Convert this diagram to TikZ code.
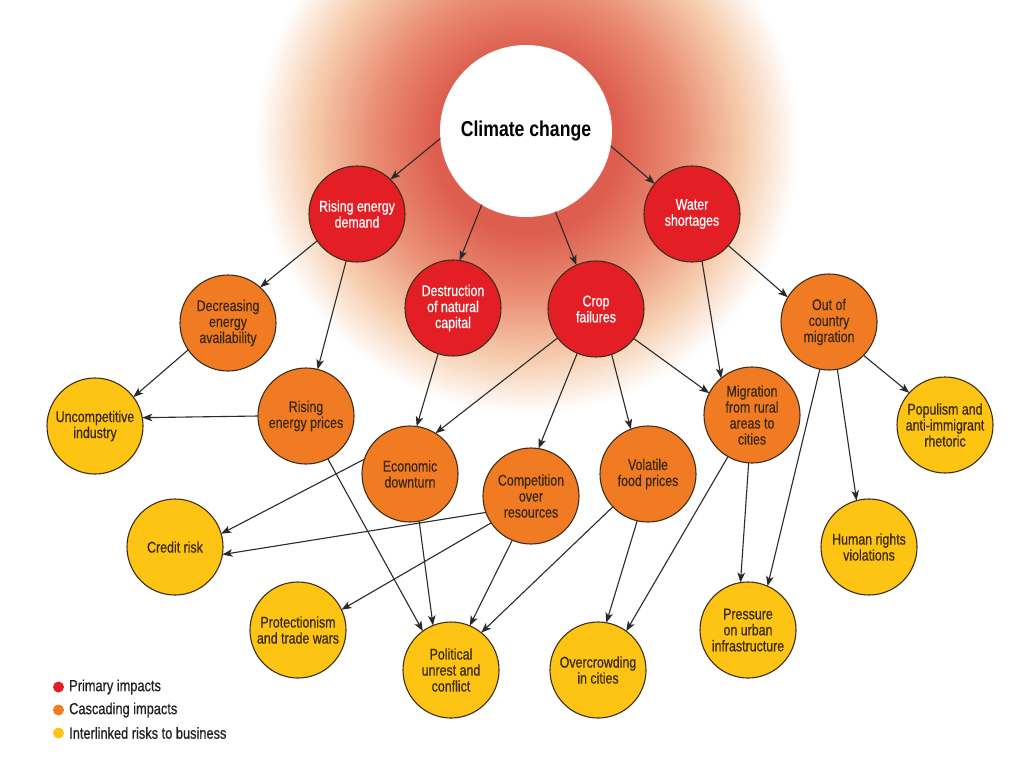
\documentclass[tikz,border=0pt]{standalone}
\usepackage{fontspec}
\setmainfont{Liberation Sans}[FakeStretch=0.82]
\newfontfamily\nodefont{Liberation Sans}[FakeStretch=0.8, FakeBold=0.6]
\usetikzlibrary{arrows.meta}
\definecolor{redfill}{HTML}{E31E24}
\definecolor{orangefill}{HTML}{F17B23}
\definecolor{yellowfill}{HTML}{FDC414}
\definecolor{bordercol}{HTML}{3F2E1C}
\definecolor{textdark}{HTML}{3A2A10}
\definecolor{arrowcol}{HTML}{2A2A2A}
\definecolor{legtext}{HTML}{231F20}
\definecolor{glowA}{HTML}{DD5E4E}
\definecolor{glowB}{HTML}{E98B72}
\definecolor{glowC}{HTML}{F6CDAE}
\pgfdeclareradialshading{glowshade}{\pgfpoint{0bp}{0bp}}{color(0bp)=(glowA); color(8.5bp)=(glowA); color(14bp)=(glowB); color(20bp)=(glowC); color(25bp)=(white); color(50bp)=(white)}
\begin{document}
\begin{tikzpicture}[x=1pt,y=-1pt,
  base/.style={circle, minimum size=96pt, inner sep=0pt, outer sep=0pt, draw=bordercol, line width=1.1pt, align=center, font=\nodefont\fontsize{15.5}{16}\selectfont},
  prim/.style={base, fill=redfill, text=white},
  casc/.style={base, fill=orangefill, text=textdark},
  risk/.style={base, fill=yellowfill, text=textdark},
  ccnode/.style={circle, minimum size=172pt, inner sep=0pt, outer sep=0pt, fill=white, text=black, font=\bfseries\fontsize{21.5}{24}\selectfont},
  arr/.style={-{Stealth[length=10pt,width=7.5pt,inset=2.5pt]}, line width=1.1pt, draw=arrowcol},
  legdot/.style={circle, minimum size=11pt, inner sep=0pt, outer sep=0pt},
  legtxt/.style={anchor=west, inner sep=0pt, text=legtext, font=\nodefont\fontsize{16}{18}\selectfont}
]
\useasboundingbox (0,0) rectangle (1032,758);
\fill[white] (0,0) rectangle (1032,758);
\begin{scope}
  \clip (0,0) rectangle (1032,758);
  \shade[shading=glowshade] (527,142) circle[radius=272];
\end{scope}

% nodes
\node[ccnode] (cc) at (526,131) {Climate change};
\node[prim] (red) at (357,214) {Rising energy\\demand};
\node[prim] (ws) at (692,214) {Water\\shortages};
\node[prim] (dnc) at (453,308) {Destruction\\of natural\\capital};
\node[prim] (cf) at (596,309) {Crop\\failures};
\node[casc] (dea) at (228,323) {Decreasing\\energy\\availability};
\node[casc] (ocm) at (829,322) {Out of\\country\\migration};
\node[casc] (rep) at (306,416) {Rising\\energy prices};
\node[casc] (mra) at (752,415) {Migration\\from rural\\areas to\\cities};
\node[casc] (ed) at (410,474) {Economic\\downturn};
\node[casc] (cor) at (531,496) {Competition\\over\\resources};
\node[casc] (vfp) at (648,474) {Volatile\\food prices};
\node[risk] (ui) at (95,426) {Uncompetitive\\industry};
\node[risk] (pop) at (945,425) {Populism and\\anti-immigrant\\rhetoric};
\node[risk] (cr) at (175,547) {Credit risk};
\node[risk] (hrv) at (869,547) {Human rights\\violations};
\node[risk] (ptw) at (298,630) {Protectionism\\and trade wars};
\node[risk] (pui) at (748,630) {Pressure\\on urban\\infrastructure};
\node[risk] (pu) at (451,670) {Political\\unrest and\\conflict};
\node[risk] (oc) at (598,670) {Overcrowding\\in cities};

% connectors
\draw[arr] (cc.185) -- (red.46);
\draw[arr] (cc.239) -- (dnc.82);
\draw[arr] (cc.290) -- (cf.114);
\draw[arr] (cc.350) -- (ws.141);
\draw[arr] (red.214) -- (dea.48);
\draw[arr] (red.257) -- (rep.76);
\draw[arr] (dea.214) -- (ui.37);
\draw[arr] (rep.180) -- (ui.10);
\draw[arr] (rep.297) -- (pu.126);
\draw[arr] (dnc.252) -- (ed.82);
\draw[arr] (cf.217) -- (ed.58);
\draw[arr] (cf.247) -- (cor.81);
\draw[arr] (cf.289) -- (vfp.111);
\draw[arr] (cf.322) -- (mra.153);
\draw[arr] (ws.282) -- (mra.130);
\draw[arr] (ws.319) -- (ocm.149);
\draw[arr] (ed.162) -- (cr.16);
\draw[arr] (ed.281) -- (pu.112);
\draw[arr] (cor.200) -- (cr.-9);
\draw[arr] (cor.214) -- (ptw.25);
\draw[arr] (cor.247) -- (pu.67);
\draw[arr] (vfp.223) -- (pu.51);
\draw[arr] (vfp.257) -- (oc.80);
\draw[arr] (mra.240) -- (oc.54);
\draw[arr] (mra.266) -- (pui.99);
\draw[arr] (ocm.259) -- (pui.66);
\draw[arr] (ocm.280) -- (hrv.105);
\draw[arr] (ocm.316) -- (pop.138);

% legend
\node[legdot, fill=redfill] (d1) at (58.5,687) {};
\node[legdot, fill=orangefill] (d2) at (58.5,710) {};
\node[legdot, fill=yellowfill] (d3) at (58.5,733) {};
\node[legtxt] (t1) at (69,687) {Primary impacts};
\node[legtxt] (t2) at (69,710) {Cascading impacts};
\node[legtxt] (t3) at (69,733) {Interlinked risks to business};
\end{tikzpicture}
\end{document}
